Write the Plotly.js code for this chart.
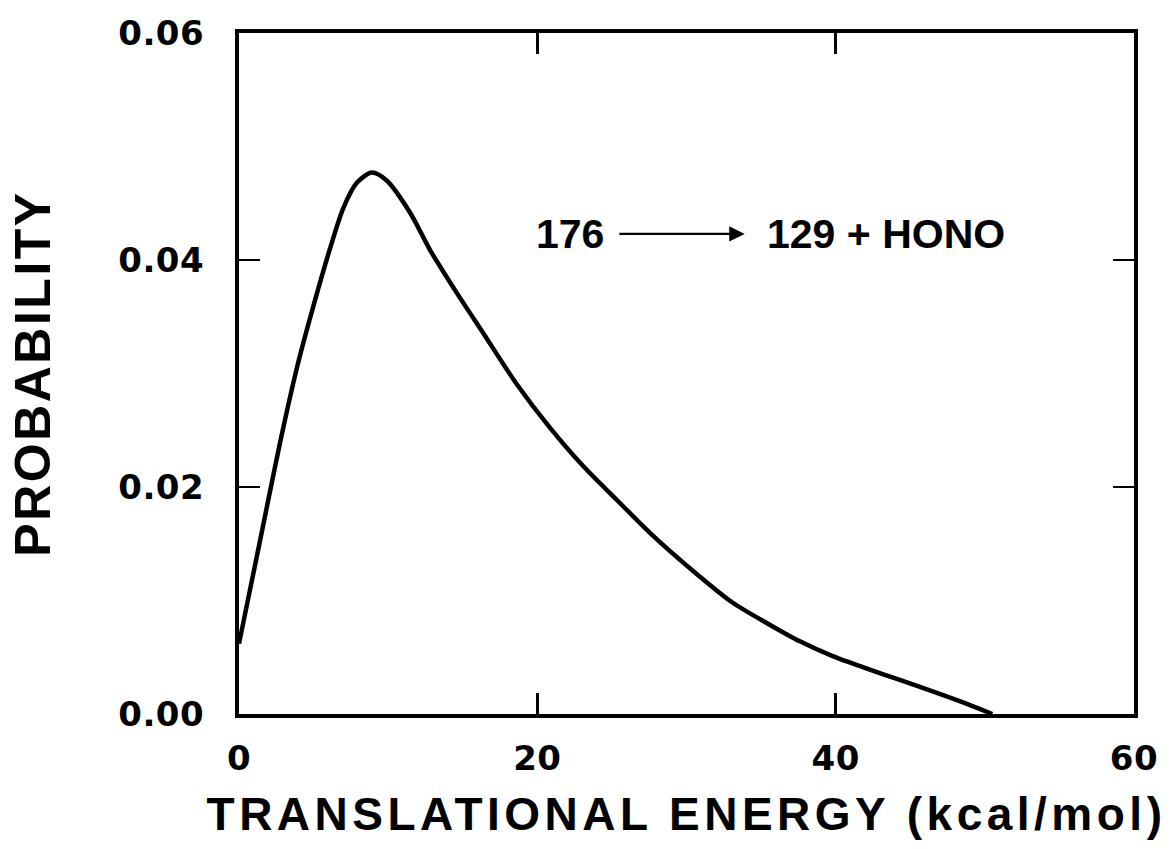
<!DOCTYPE html>
<html>
<head>
<meta charset="utf-8">
<script src="https://cdn.plot.ly/plotly-3.0.1.min.js"></script>
<style>
  html, body { margin: 0; padding: 0; background: #fff; }
  #chart { width: 1173px; height: 849px; }
  #chart .xtick text, #chart .ytick text { letter-spacing: 0.5px; }
  #chart text.xtitle { letter-spacing: 4.5px; }
  #chart text.ytitle { letter-spacing: 2.5px; }
</style>
</head>
<body>
<div id="chart"></div>
<script>
// Translational energy (kcal/mol)
const energy = [0, 1.6, 2.75, 3.9, 5.0, 6.1, 7.0, 7.9, 8.9, 9.9, 11.5, 12.8, 14.6, 16.4, 18.6, 20.8, 23.1, 25.3, 27.6, 30.9, 33.1, 35.4, 37.6, 39.8, 42.1, 44.3, 46.5, 48.8, 50.5];
// Probability
const probability = [0.0062, 0.0165, 0.0239, 0.0306, 0.0360, 0.0410, 0.0446, 0.0468, 0.0477, 0.0470, 0.0441, 0.0409, 0.0371, 0.0335, 0.0291, 0.0253, 0.0218, 0.0189, 0.0159, 0.0121, 0.0098, 0.0080, 0.0064, 0.0051, 0.0040, 0.0030, 0.0020, 0.0009, 0.0];

const xTickVals = [0, 20, 40, 60];
const xTickText = ['0', '20', '40', '60'];
const yTickVals = [0, 0.02, 0.04, 0.06];
const yTickText = ['0.00', '0.02', '0.04', '0.06'];

const reactionLeft = '176';
const reactionRight = '129 + HONO';

const FONT = '"Liberation Sans", Arial, Helvetica, sans-serif';
const TICKFONT = '"DejaVu Sans", "Liberation Sans", Arial, sans-serif';

const trace = {
  x: energy,
  y: probability,
  type: 'scatter',
  mode: 'lines',
  line: { color: '#000', width: 4.5, shape: 'spline', smoothing: 0.8 },
  hoverinfo: 'skip'
};

const layout = {
  width: 1173,
  height: 849,
  margin: { l: 239, r: 39, t: 33, b: 135 },
  paper_bgcolor: '#fff',
  plot_bgcolor: '#fff',
  showlegend: false,
  font: { family: FONT, color: '#000', weight: 'bold' },
  xaxis: {
    range: [0, 60],
    tickvals: xTickVals,
    ticktext: xTickText,
    ticks: 'inside',
    ticklen: 21,
    tickwidth: 2.5,
    tickcolor: '#000',
    showline: true,
    linewidth: 4,
    linecolor: '#000',
    mirror: 'ticks',
    showgrid: false,
    zeroline: false,
    ticklabelstandoff: 11,
    tickfont: { family: TICKFONT, size: 34, color: '#000', weight: 'bold' },
    title: { text: 'TRANSLATIONAL ENERGY (kcal/mol)', font: { family: FONT, size: 46, color: '#000', weight: 'bold' }, standoff: 22 }
  },
  yaxis: {
    range: [0, 0.06],
    tickvals: yTickVals,
    ticktext: yTickText,
    ticks: 'inside',
    ticklen: 21,
    tickwidth: 2.5,
    tickcolor: '#000',
    showline: true,
    linewidth: 4,
    linecolor: '#000',
    mirror: 'ticks',
    showgrid: false,
    zeroline: false,
    ticklabelstandoff: 24,
    tickfont: { family: TICKFONT, size: 34, color: '#000', weight: 'bold' },
    title: { text: 'PROBABILITY', font: { family: FONT, size: 50, color: '#000', weight: 'bold' }, standoff: 55 }
  },
  annotations: [
    {
      x: 22.2, y: 0.0423, xref: 'x', yref: 'y',
      text: reactionLeft, showarrow: false,
      font: { family: FONT, size: 41, color: '#000', weight: 'bold' }
    },
    {
      x: 33.9, y: 0.0423, ax: 25.4, ay: 0.0423,
      xref: 'x', yref: 'y', axref: 'x', ayref: 'y',
      text: '', showarrow: true, arrowhead: 2, arrowsize: 1.4, arrowwidth: 2.2, arrowcolor: '#000'
    },
    {
      x: 43.4, y: 0.0423, xref: 'x', yref: 'y',
      text: reactionRight, showarrow: false,
      font: { family: FONT, size: 41, color: '#000', weight: 'bold' }
    }
  ]
};

Plotly.newPlot('chart', [trace], layout, { displayModeBar: false, staticPlot: true });
</script>
</body>
</html>
